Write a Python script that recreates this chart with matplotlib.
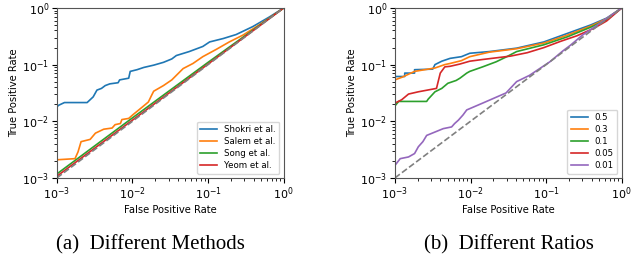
import numpy as np
import matplotlib.pyplot as plt

# log10 values
# (a) different methods
shokri_fpr = [-3, -2.98, -2.9, -2.6, -2.56, -2.52, -2.47, -2.41, -2.36, -2.3, -2.19, -2.17, -2.05, -2.03, -1.94, -1.85, -1.72, -1.59, -1.48, -1.42, -1.25, -1.07, -0.98, -0.8, -0.63, -0.41, -0.19, 0]
shokri_tpr = [-1.75, -1.72, -1.67, -1.67, -1.62, -1.57, -1.45, -1.42, -1.37, -1.34, -1.32, -1.27, -1.24, -1.12, -1.09, -1.05, -1.01, -0.96, -0.9, -0.84, -0.77, -0.68, -0.6, -0.54, -0.47, -0.33, -0.16, 0]
salem_fpr = [-3, -2.76, -2.72, -2.68, -2.56, -2.49, -2.38, -2.27, -2.23, -2.16, -2.14, -2.05, -1.99, -1.88, -1.79, -1.75, -1.72, -1.59, -1.48, -1.33, -1.2, -1.07, -0.89, -0.72, -0.54, -0.36, -0.19, 0]
salem_tpr = [-2.68, -2.66, -2.54, -2.36, -2.32, -2.21, -2.14, -2.12, -2.06, -2.04, -1.97, -1.95, -1.88, -1.76, -1.66, -1.55, -1.47, -1.37, -1.27, -1.07, -0.98, -0.86, -0.73, -0.6, -0.48, -0.33, -0.18, 0]
song_fpr = [-3, -2, -1, 0]
song_tpr = [-2.93, -1.94, -0.96, 0]
yeom_fpr = [-3, -2, -1, 0]
yeom_tpr = [-2.97, -1.98, -0.99, 0]

# (b) different ratios
r05_fpr = [-3, -2.87, -2.87, -2.74, -2.74, -2.5, -2.47, -2.38, -2.27, -2.12, -2.01, -1.75, -1.39, -1.03, -0.72, -0.41, -0.2, 0]
r05_tpr = [-1.21, -1.21, -1.15, -1.15, -1.09, -1.08, -1.0, -0.94, -0.89, -0.86, -0.8, -0.77, -0.71, -0.6, -0.45, -0.3, -0.18, 0]
r03_fpr = [-3, -2.9, -2.74, -2.47, -2.34, -2.27, -2.12, -2.01, -1.75, -1.39, -1.03, -0.72, -0.41, -0.2, 0]
r03_tpr = [-1.27, -1.22, -1.12, -1.06, -1.0, -0.98, -0.93, -0.86, -0.78, -0.72, -0.62, -0.48, -0.32, -0.19, 0]
r01_fpr = [-3, -2.95, -2.58, -2.56, -2.47, -2.38, -2.3, -2.19, -2.14, -2.05, -2.01, -1.84, -1.66, -1.52, -1.39, -1.03, -0.72, -0.41, -0.2, 0]
r01_tpr = [-1.73, -1.65, -1.65, -1.61, -1.48, -1.42, -1.33, -1.28, -1.24, -1.15, -1.12, -1.04, -0.95, -0.86, -0.77, -0.65, -0.51, -0.34, -0.21, 0]
r005_fpr = [-3, -2.91, -2.82, -2.69, -2.45, -2.4, -2.34, -2.27, -2.14, -2.01, -1.84, -1.47, -1.25, -1.03, -0.81, -0.59, -0.37, -0.2, 0]
r005_tpr = [-1.68, -1.62, -1.52, -1.48, -1.42, -1.15, -1.04, -1.03, -0.99, -0.94, -0.91, -0.85, -0.79, -0.7, -0.59, -0.49, -0.36, -0.23, 0]
r001_fpr = [-3, -2.93, -2.82, -2.74, -2.69, -2.63, -2.58, -2.47, -2.36, -2.25, -2.21, -2.16, -2.1, -2.05, -1.84, -1.53, -1.39, -1.22, -0.95, -0.78, -0.68, -0.52, -0.29, 0]
r001_tpr = [-2.78, -2.66, -2.63, -2.57, -2.45, -2.36, -2.25, -2.19, -2.13, -2.1, -2.04, -1.98, -1.89, -1.8, -1.68, -1.5, -1.3, -1.19, -0.95, -0.76, -0.66, -0.48, -0.27, 0]

methods = [("Shokri et al.", shokri_fpr, shokri_tpr), ("Salem et al.", salem_fpr, salem_tpr),
           ("Song et al.", song_fpr, song_tpr), ("Yeom et al.", yeom_fpr, yeom_tpr)]
ratios = [("0.5", r05_fpr, r05_tpr), ("0.3", r03_fpr, r03_tpr), ("0.1", r01_fpr, r01_tpr),
          ("0.05", r005_fpr, r005_tpr), ("0.01", r001_fpr, r001_tpr)]

fig = plt.figure(figsize=(6.39, 2.56), dpi=100)
ax1 = fig.add_axes([0.089, 0.305, 0.355, 0.664])
ax2 = fig.add_axes([0.618, 0.305, 0.355, 0.664])

for ax, curves in [(ax1, methods), (ax2, ratios)]:
    for name, fx, fy in curves:
        ax.plot(10.0 ** np.array(fx), 10.0 ** np.array(fy), label=name, lw=1.2)
    ax.plot([1e-3, 1], [1e-3, 1], '--', color='gray', lw=1.2)
    ax.set_xscale('log')
    ax.set_yscale('log')
    ax.set_xlim(1e-3, 1)
    ax.set_ylim(1e-3, 1)
    ax.set_xlabel('False Positive Rate', fontsize=7.2, labelpad=2)
    ax.set_ylabel('True Positive Rate', fontsize=7.2, labelpad=2)
    ax.tick_params(labelsize=8, pad=2)
    for s in ax.spines.values():
        s.set_color('#555555')
    ax.legend(loc='lower right', fontsize=6.2, labelspacing=0.35)

fig.text(0.236, 0.027, '(a)  Different Methods', ha='center', va='baseline',
         family='Liberation Serif', fontsize=15)
fig.text(0.797, 0.027, '(b)  Different Ratios', ha='center', va='baseline',
         family='Liberation Serif', fontsize=15)

fig.savefig('out.png', dpi=100)
